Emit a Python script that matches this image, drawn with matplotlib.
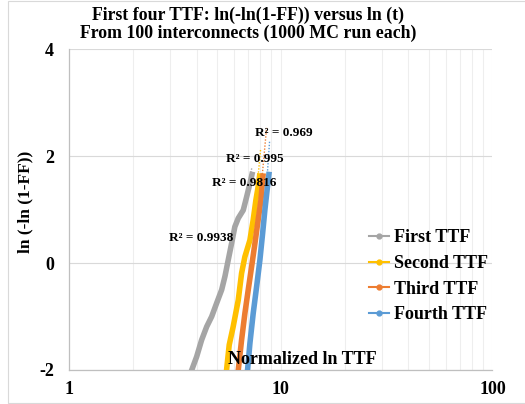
import matplotlib
matplotlib.use("Agg")
import matplotlib.pyplot as plt
from matplotlib.lines import Line2D
from matplotlib.patches import Rectangle

# valeurs (t normalisé, ln(-ln(1-FF)))
first_t = [3.75, 4.00, 4.22, 4.46, 4.71, 4.97, 5.25, 5.44, 5.64, 5.85, 6.06, 6.29, 6.64, 6.89, 7.14, 7.35]
first_y = [-2.05, -1.75, -1.44, -1.19, -1.00, -0.75, -0.50, -0.25, 0.06, 0.37, 0.68, 0.84, 0.99, 1.24, 1.49, 1.71]

second_t = [5.52, 5.70, 5.95, 6.29, 6.52, 6.76, 7.14, 7.40, 7.62, 7.81, 7.96]
second_y = [-2.05, -1.53, -1.19, -0.69, -0.19, 0.12, 0.43, 0.81, 1.18, 1.43, 1.68]

third_t = [6.27, 6.52, 6.76, 7.01, 7.27, 7.54, 7.81, 8.05, 8.25]
third_y = [-2.05, -1.44, -0.94, -0.50, -0.07, 0.37, 0.81, 1.18, 1.68]

fourth_t = [6.94, 7.14, 7.40, 7.68, 7.96, 8.20, 8.40, 8.61, 8.81]
fourth_y = [-2.05, -1.50, -0.94, -0.44, 0.06, 0.56, 0.99, 1.37, 1.71]

# courbes de tendance (pointillés) : extrémité haute
trend_top_t = [7.30, 8.02, 8.56, 8.85]
trend_top_y = [1.80, 2.13, 2.53, 2.30]

labels = ["First TTF", "Second TTF", "Third TTF", "Fourth TTF"]
colors = ["#a5a5a5", "#ffc000", "#ed7d31", "#5b9bd5"]

r2_text = ["R² = 0.9938", "R² = 0.995", "R² = 0.969", "R² = 0.9816"]
r2_t = [2.96, 5.50, 7.54, 4.72]
r2_y = [0.47, 1.94, 2.43, 1.50]

SERIF = "Liberation Serif"

fig = plt.figure(figsize=(5.25, 4.04), dpi=100)
ax = fig.add_axes([0.132, 0.0842, 0.806, 0.7937])

series = [(first_t, first_y), (second_t, second_y), (third_t, third_y), (fourth_t, fourth_y)]
for (ts, ys), col, ttop, ytop in zip(series, colors, trend_top_t, trend_top_y):
    ax.plot(ts, ys, color=col, lw=4.0, solid_joinstyle="round", solid_capstyle="butt", zorder=3)
    ax.plot([ts[-3], ttop], [ys[-3], ytop], color=col, lw=1.0, ls=(0, (1, 1.2)), zorder=2)

for txt, tx, ty in zip(r2_text, r2_t, r2_y):
    ax.text(tx, ty, txt, ha="left", va="center", fontsize=9.5, fontweight="bold",
            family=SERIF, zorder=5)

ax.set_xscale("log")
ax.set_xlim(1, 100)
ax.set_ylim(-2, 4)
ax.set_yticks([-2, 0, 2, 4])
ax.set_xticks([1, 10, 100])
ax.set_xticklabels(["1", "10", "100"])
ax.set_yticklabels(["-2", "0", "2", "4"])
ax.tick_params(axis="both", which="both", length=0)
ax.tick_params(axis="y", pad=11)
ax.tick_params(axis="x", pad=8)
for lab in ax.get_xticklabels() + ax.get_yticklabels():
    lab.set_family(SERIF)
    lab.set_fontweight("bold")
    lab.set_fontsize(13)

ax.grid(True, axis="y", which="major", color="#d9d9d9", lw=0.8)
ax.grid(True, axis="x", which="both", color="#eeeeee", lw=0.8)
ax.set_axisbelow(True)
for side in ["top", "right"]:
    ax.spines[side].set_visible(False)
for side in ["left", "bottom"]:
    ax.spines[side].set_color("#bfbfbf")
    ax.spines[side].set_linewidth(0.9)

ax.text(0.3755, 0.034, "Normalized ln TTF", transform=ax.transAxes, ha="left", va="center",
        fontsize=13, fontweight="bold", family=SERIF, zorder=6)

fig.text(0.048, 0.50, "ln (-ln (1-FF))", rotation=90, ha="center", va="center",
         fontsize=12.5, fontweight="bold", family=SERIF)

fig.text(0.472, 0.963, "First four TTF: ln(-ln(1-FF)) versus ln (t)", ha="center", va="center",
         fontsize=12.8, fontweight="bold", family=SERIF)
fig.text(0.472, 0.918, "From 100 interconnects (1000 MC run each)", ha="center", va="center",
         fontsize=12.8, fontweight="bold", family=SERIF)

handles = [Line2D([0], [0], color=c, lw=1.5, marker="o", ms=3.5) for c in colors]
ax.legend(handles, labels, loc="upper left", bbox_to_anchor=(0.69, 0.45),
          bbox_transform=fig.transFigure, frameon=False, handlelength=1.1,
          handletextpad=0.25, labelspacing=0.48, borderaxespad=0,
          prop={"family": SERIF, "weight": "bold", "size": 13})

fig.add_artist(Rectangle((8 / 525, 1 / 404), 1.0, 402 / 404, transform=fig.transFigure,
                         fill=False, ec="#d9d9d9", lw=0.8))

fig.savefig("out.png", dpi=100)
